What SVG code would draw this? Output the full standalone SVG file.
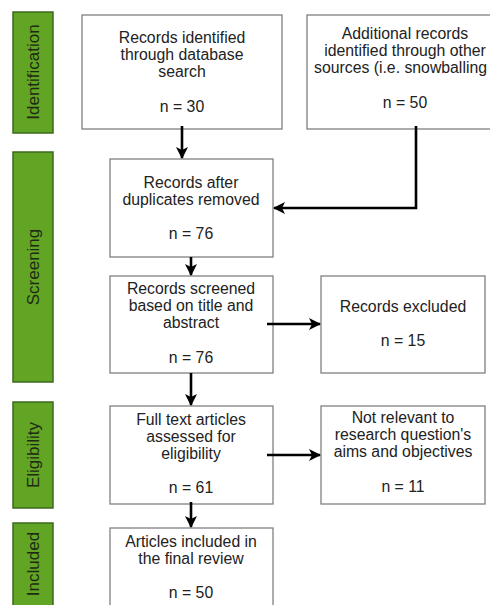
<svg xmlns="http://www.w3.org/2000/svg" width="490" height="605" viewBox="0 0 490 605">
<defs>
<style>
.box{fill:#fff;stroke:#808080;stroke-width:1.3}
.phase{fill:#62a424;stroke:#3d6a1c;stroke-width:1.5}
.t{font-family:"Liberation Sans",Arial,sans-serif;font-size:15.8px;fill:#222;text-anchor:middle}
.pt{font-family:"Liberation Sans",Arial,sans-serif;font-size:17px;fill:#1e2a14;text-anchor:middle}
.c{fill:none;stroke:#000;stroke-width:2.6}
</style>
<marker id="ah" viewBox="0 0 12 12" refX="11" refY="6" markerWidth="12" markerHeight="12" markerUnits="userSpaceOnUse" orient="auto">
<path d="M0,0 L12,6 L0,12 L3,6 z" fill="#000"/>
</marker>
</defs>
<rect width="490" height="605" fill="#fff"/>

<g id="phase-identification">
<rect class="phase" x="13" y="12" width="40" height="121"/>
<text class="pt" transform="translate(39,72) rotate(-90)">Identification</text>
</g>
<g id="phase-screening">
<rect class="phase" x="13" y="152" width="40" height="230"/>
<text class="pt" transform="translate(39,267) rotate(-90)">Screening</text>
</g>
<g id="phase-eligibility">
<rect class="phase" x="13" y="402" width="40" height="106"/>
<text class="pt" transform="translate(39,455) rotate(-90)">Eligibility</text>
</g>
<g id="phase-included">
<rect class="phase" x="13" y="523" width="40" height="90"/>
<text class="pt" transform="translate(39,564) rotate(-90)">Included</text>
</g>

<g id="n-database">
<rect class="box" x="82" y="15" width="200" height="114"/>
<text class="t" x="182" y="43">Records identified</text>
<text class="t" x="182" y="60">through database</text>
<text class="t" x="182" y="77">search</text>
<text class="t" x="182" y="112">n = 30</text>
</g>
<g id="n-other">
<rect class="box" x="307" y="15" width="200" height="114"/>
<text class="t" x="405" y="39">Additional records</text>
<text class="t" x="405" y="56">identified through other</text>
<text class="t" x="314" y="73" style="text-anchor:start">sources (i.e. snowballing</text>
<text class="t" x="405" y="108">n = 50</text>
</g>
<g id="n-dedup">
<rect class="box" x="110" y="159" width="163" height="98"/>
<text class="t" x="191" y="188">Records after</text>
<text class="t" x="191" y="205">duplicates removed</text>
<text class="t" x="191" y="239">n = 76</text>
</g>
<g id="n-screened">
<rect class="box" x="110" y="276" width="163" height="97"/>
<text class="t" x="191" y="294">Records screened</text>
<text class="t" x="191" y="311">based on title and</text>
<text class="t" x="191" y="328">abstract</text>
<text class="t" x="191" y="363">n = 76</text>
</g>
<g id="n-excluded">
<rect class="box" x="321" y="276" width="164" height="97"/>
<text class="t" x="403" y="312">Records excluded</text>
<text class="t" x="403" y="346">n = 15</text>
</g>
<g id="n-fulltext">
<rect class="box" x="110" y="406" width="163" height="98"/>
<text class="t" x="191" y="425">Full text articles</text>
<text class="t" x="191" y="442">assessed for</text>
<text class="t" x="191" y="459">eligibility</text>
<text class="t" x="191" y="493">n = 61</text>
</g>
<g id="n-notrelevant">
<rect class="box" x="321" y="406" width="164" height="98"/>
<text class="t" x="403" y="423">Not relevant to</text>
<text class="t" x="403" y="440">research question's</text>
<text class="t" x="403" y="457">aims and objectives</text>
<text class="t" x="403" y="492">n = 11</text>
</g>
<g id="n-included">
<rect class="box" x="110" y="528" width="163" height="90"/>
<text class="t" x="191" y="547">Articles included in</text>
<text class="t" x="191" y="564">the final review</text>
<text class="t" x="191" y="598">n = 50</text>
</g>

<g id="connectors">
<path class="c" d="M182,126 L182,158" marker-end="url(#ah)"/>
<path class="c" d="M416,126 L416,208 L274,208" marker-end="url(#ah)"/>
<path class="c" d="M191,257 L191,275" marker-end="url(#ah)"/>
<path class="c" d="M267,324 L320,324" marker-end="url(#ah)"/>
<path class="c" d="M191,373 L191,405" marker-end="url(#ah)"/>
<path class="c" d="M267,455 L320,455" marker-end="url(#ah)"/>
<path class="c" d="M191,502 L191,527" marker-end="url(#ah)"/>
</g>
</svg>
